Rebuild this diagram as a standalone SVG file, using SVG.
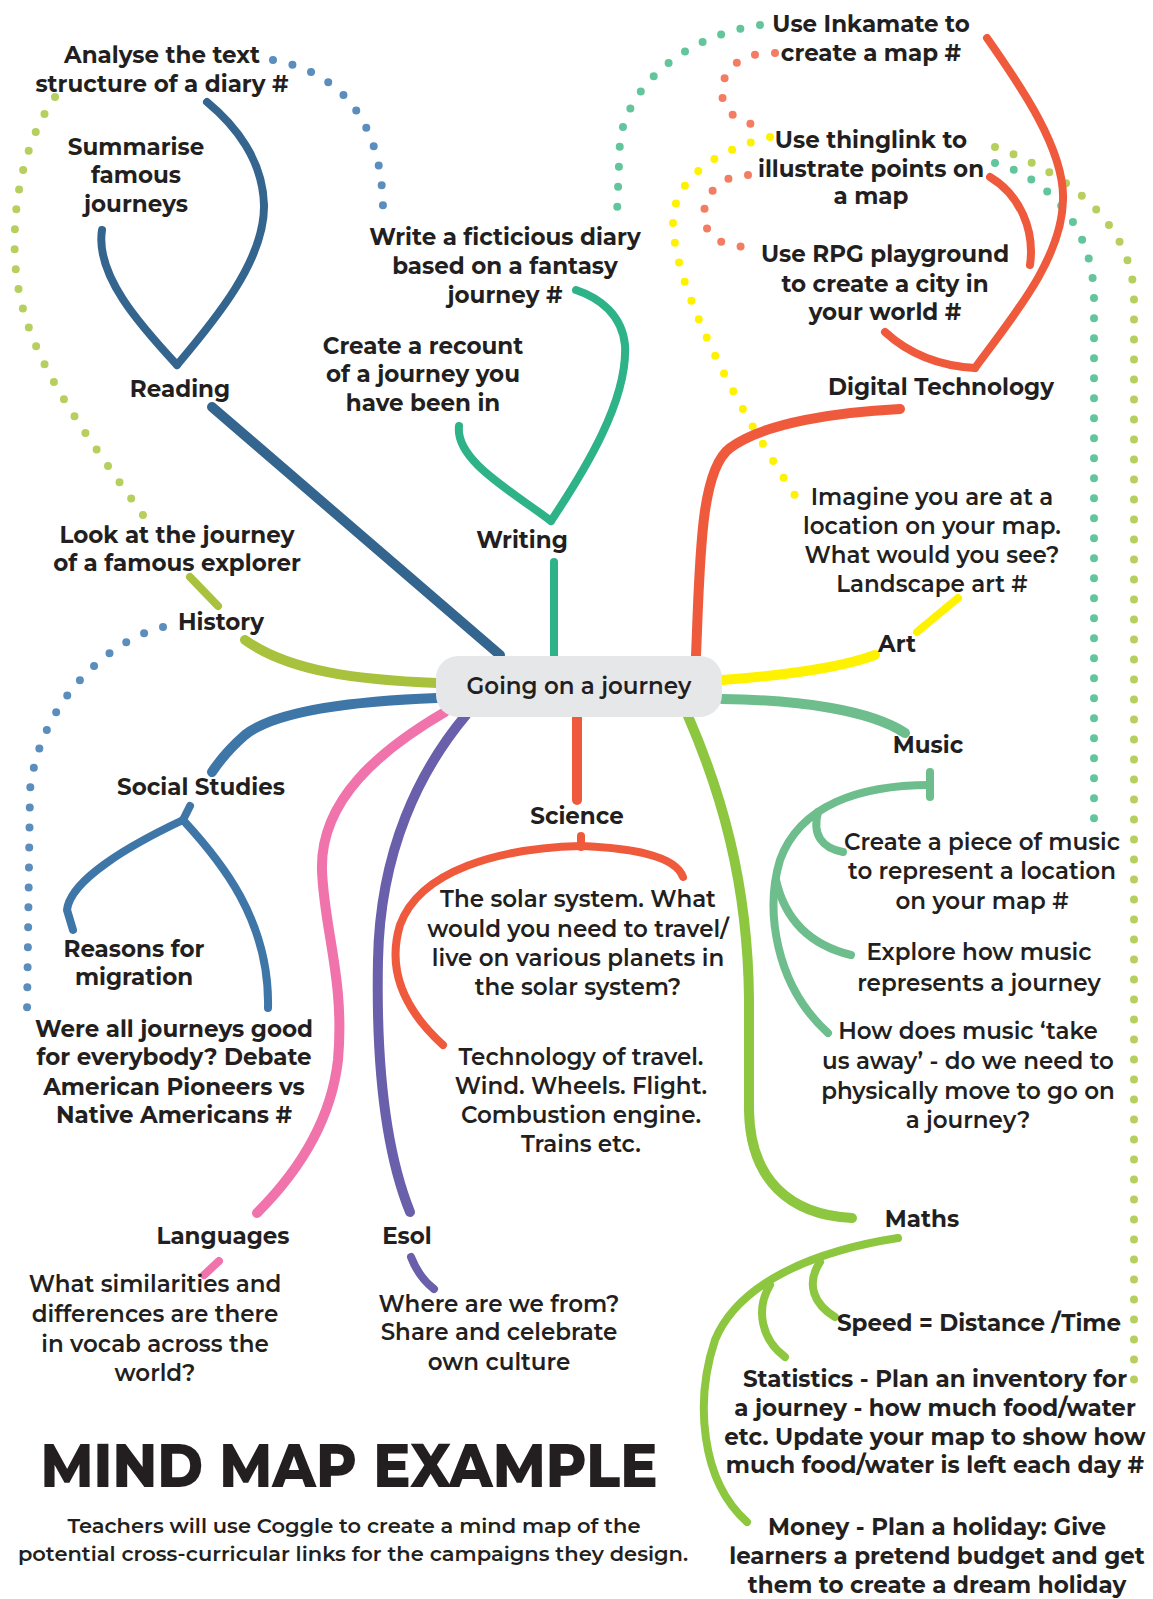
<svg xmlns="http://www.w3.org/2000/svg" width="1153" height="1599" viewBox="0 0 1153 1599">
<style>
.b{fill:none;stroke-linecap:round;stroke-linejoin:round;stroke-width:8}
.m{stroke-width:10}
.d{fill:none;stroke-linecap:round;stroke-width:8;stroke-dasharray:0 20}
.t{font-family:'Montserrat','Open Sans','Liberation Sans',sans-serif;font-weight:700;font-size:23px;fill:#231f20;text-anchor:middle}
.h{font-size:62px;font-weight:800}
.s{font-weight:600}
.u{font-size:21px}
</style>
<rect width="1153" height="1599" fill="#fff"/>
<g id="connectors">
<path class="d" stroke="#5b8dbd" d="M273,60 C330,70 383,110 383,212"/>
<path class="d" stroke="#b7cf5e" d="M55,97 C25,140 12,200 15,260 C20,340 60,400 143,515"/>
<path class="d" stroke="#63c59b" d="M760,25 C690,35 630,80 620,140 L617,213"/>
<path class="d" stroke="#f47c62" d="M775,53 C740,52 722,70 722,92 C722,115 745,125 767,127"/>
<path class="d" stroke="#f47c62" d="M748,175 C720,175 704,195 704,215 C705,240 725,247 753,247"/>
<path class="d" stroke="#fff200" d="M770,137 C715,150 673,180 673,222 C673,290 745,420 798,500"/>
<path class="d" stroke="#63c59b" d="M995,163 C1040,175 1094,220 1094,300 L1094,830"/>
<path class="d" stroke="#b7cf5e" d="M995,147 C1060,170 1134,220 1134,300 L1134,1382"/>
<path class="d" stroke="#5b8dbd" d="M163,627 C110,640 40,700 30,790 L27,1012"/>
<path class="b m" stroke="#33658f" d="M500,655 L212,407"/>
<path class="b" stroke="#33658f" d="M177,365 C140,325 95,275 102,230"/>
<path class="b" stroke="#33658f" d="M177,365 C215,320 265,260 264,205 C263,160 235,125 207,102"/>
<path class="b" stroke="#2eb287" d="M554,656 L554,562"/>
<path class="b" stroke="#2eb287" d="M551,521 C510,490 455,460 459,426"/>
<path class="b" stroke="#2eb287" d="M551,521 C585,470 628,400 625,345 C622,315 600,298 576,290"/>
<path class="b m" stroke="#f05a3c" d="M696,656 C700,560 700,470 730,448 C765,422 840,412 900,409"/>
<path class="b" stroke="#f05a3c" d="M987,38 C1020,85 1065,150 1063,200 C1062,260 1010,320 975,368"/>
<path class="b" stroke="#f05a3c" d="M990,177 C1020,195 1035,230 1030,265"/>
<path class="b" stroke="#f05a3c" d="M885,332 C910,355 940,366 975,368"/>
<path class="b m" stroke="#fff200" d="M722,680 C790,675 840,668 875,655"/>
<path class="b" stroke="#fff200" d="M917,632 L958,598"/>
<path class="b m" stroke="#6ebd8d" d="M722,699 C800,700 870,710 905,733"/>
<path class="b" stroke="#6ebd8d" d="M930,772 L930,797"/>
<path class="b" stroke="#6ebd8d" d="M930,785 C860,785 800,805 780,860 C765,910 775,985 828,1033"/>
<path class="b" stroke="#6ebd8d" d="M818,812 C812,835 822,848 843,852"/>
<path class="b" stroke="#6ebd8d" d="M776,880 C785,920 810,945 851,955"/>
<path class="b m" stroke="#8dc63f" d="M688,716 C720,790 748,880 749,1000 L749,1110 C750,1180 790,1215 852,1218"/>
<path class="b" stroke="#8dc63f" d="M898,1238 C820,1250 740,1280 715,1340 C695,1400 700,1480 747,1522"/>
<path class="b" stroke="#8dc63f" d="M820,1262 C805,1285 815,1305 835,1317"/>
<path class="b" stroke="#8dc63f" d="M770,1285 C755,1310 762,1340 785,1357"/>
<path class="b m" stroke="#f05a3c" d="M577,717 L577,800"/>
<path class="b" stroke="#f05a3c" d="M581,836 L581,847"/>
<path class="b" stroke="#f05a3c" d="M581,846 C500,848 420,870 400,925 C385,975 410,1015 443,1045"/>
<path class="b" stroke="#f05a3c" d="M581,846 C630,848 675,855 683,877"/>
<path class="b m" stroke="#a9c23d" d="M437,683 C360,680 290,672 245,640"/>
<path class="b" stroke="#a9c23d" d="M218,606 L190,577"/>
<path class="b m" stroke="#3f76a8" d="M437,698 C330,702 270,715 245,735 C230,748 220,760 212,772"/>
<path class="b" stroke="#3f76a8" d="M190,806 L183,820"/>
<path class="b" stroke="#3f76a8" d="M183,820 C130,845 70,880 67,910 L73,930"/>
<path class="b" stroke="#3f76a8" d="M183,820 C220,860 270,920 268,1008"/>
<path class="b m" stroke="#f173ac" d="M445,712 C380,750 320,800 322,870 C324,930 345,980 338,1060 C330,1130 290,1180 257,1213"/>
<path class="b" stroke="#f173ac" d="M219,1261 L204,1275"/>
<path class="b m" stroke="#6a5fab" d="M466,715 C420,770 380,850 378,960 C376,1060 385,1150 410,1212"/>
<path class="b" stroke="#6a5fab" d="M411,1257 C416,1270 425,1282 434,1289"/>
</g>
<g id="center">
<rect x="436" y="656" width="286" height="61" rx="22" fill="#e6e7e8"/>
<text class="t s" x="579" y="694" font-size="25">Going on a journey</text>
</g>
<g id="reading"><text class="t" x="180" y="397">Reading</text></g>
<g id="writing"><text class="t" x="522" y="548">Writing</text></g>
<g id="digital-technology"><text class="t" x="941" y="395">Digital Technology</text></g>
<g id="history"><text class="t" x="221" y="630">History</text></g>
<g id="art"><text class="t" x="897" y="652">Art</text></g>
<g id="music"><text class="t" x="928" y="753">Music</text></g>
<g id="social-studies"><text class="t" x="201" y="795">Social Studies</text></g>
<g id="science"><text class="t" x="577" y="824">Science</text></g>
<g id="maths"><text class="t" x="922" y="1227">Maths</text></g>
<g id="languages"><text class="t" x="223" y="1244">Languages</text></g>
<g id="esol"><text class="t" x="407" y="1244">Esol</text></g>
<g id="analyse"><text class="t"><tspan x="162" y="63">Analyse the text</tspan><tspan x="162" y="92">structure of a diary #</tspan></text></g>
<g id="summarise"><text class="t"><tspan x="136" y="155">Summarise</tspan><tspan x="136" y="183">famous</tspan><tspan x="136" y="212">journeys</tspan></text></g>
<g id="write-diary"><text class="t"><tspan x="505" y="245">Write a ficticious diary</tspan><tspan x="505" y="274">based on a fantasy</tspan><tspan x="505" y="303">journey #</tspan></text></g>
<g id="recount"><text class="t"><tspan x="423" y="354">Create a recount</tspan><tspan x="423" y="382">of a journey you</tspan><tspan x="423" y="411">have been in</tspan></text></g>
<g id="explorer"><text class="t"><tspan x="177" y="543">Look at the journey</tspan><tspan x="177" y="571">of a famous explorer</tspan></text></g>
<g id="inkamate"><text class="t"><tspan x="871" y="32">Use Inkamate to</tspan><tspan x="871" y="61">create a map #</tspan></text></g>
<g id="thinglink"><text class="t"><tspan x="871" y="148">Use thinglink to</tspan><tspan x="871" y="177">illustrate points on</tspan><tspan x="871" y="204">a map</tspan></text></g>
<g id="rpg"><text class="t"><tspan x="885" y="262">Use RPG playground</tspan><tspan x="885" y="292">to create a city in</tspan><tspan x="885" y="320">your world #</tspan></text></g>
<g id="imagine"><text class="t s"><tspan x="932" y="505">Imagine you are at a</tspan><tspan x="932" y="534">location on your map.</tspan><tspan x="932" y="563">What would you see?</tspan><tspan x="932" y="592">Landscape art #</tspan></text></g>
<g id="music-piece"><text class="t s"><tspan x="982" y="850">Create a piece of music</tspan><tspan x="982" y="879">to represent a location</tspan><tspan x="982" y="909">on your map #</tspan></text></g>
<g id="explore-music"><text class="t s"><tspan x="979" y="960">Explore how music</tspan><tspan x="979" y="991">represents a journey</tspan></text></g>
<g id="take-away"><text class="t s"><tspan x="968" y="1039">How does music ‘take</tspan><tspan x="968" y="1069">us away’ - do we need to</tspan><tspan x="968" y="1099">physically move to go on</tspan><tspan x="968" y="1128">a journey?</tspan></text></g>
<g id="solar"><text class="t s"><tspan x="578" y="907">The solar system. What</tspan><tspan x="578" y="937">would you need to travel/</tspan><tspan x="578" y="966">live on various planets in</tspan><tspan x="578" y="995">the solar system?</tspan></text></g>
<g id="technology"><text class="t s"><tspan x="581" y="1065">Technology of travel.</tspan><tspan x="581" y="1094">Wind. Wheels. Flight.</tspan><tspan x="581" y="1123">Combustion engine.</tspan><tspan x="581" y="1152">Trains etc.</tspan></text></g>
<g id="migration"><text class="t"><tspan x="134" y="957">Reasons for</tspan><tspan x="134" y="985">migration</tspan></text></g>
<g id="debate"><text class="t"><tspan x="174" y="1037">Were all journeys good</tspan><tspan x="174" y="1065">for everybody? Debate</tspan><tspan x="174" y="1095">American Pioneers vs</tspan><tspan x="174" y="1123">Native Americans #</tspan></text></g>
<g id="vocab"><text class="t s"><tspan x="155" y="1292">What similarities and</tspan><tspan x="155" y="1322">differences are there</tspan><tspan x="155" y="1352">in vocab across the</tspan><tspan x="155" y="1381">world?</tspan></text></g>
<g id="culture"><text class="t s"><tspan x="499" y="1312">Where are we from?</tspan><tspan x="499" y="1340">Share and celebrate</tspan><tspan x="499" y="1370">own culture</tspan></text></g>
<g id="speed"><text class="t"><tspan x="979" y="1331">Speed = Distance /Time</tspan></text></g>
<g id="statistics"><text class="t"><tspan x="935" y="1387">Statistics - Plan an inventory for</tspan><tspan x="935" y="1416">a journey - how much food/water</tspan><tspan x="935" y="1445">etc. Update your map to show how</tspan><tspan x="935" y="1473">much food/water is left each day #</tspan></text></g>
<g id="money"><text class="t"><tspan x="937" y="1535">Money - Plan a holiday: Give</tspan><tspan x="937" y="1564">learners a pretend budget and get</tspan><tspan x="937" y="1593">them to create a dream holiday</tspan></text></g>
<g id="title">
<text class="t h" x="349" y="1487" textLength="617" lengthAdjust="spacingAndGlyphs">MIND MAP EXAMPLE</text>
<text class="t s u"><tspan x="354" y="1533">Teachers will use Coggle to create a mind map of the</tspan><tspan x="353" y="1561">potential cross-curricular links for the campaigns they design.</tspan></text>
</g>
</svg>
